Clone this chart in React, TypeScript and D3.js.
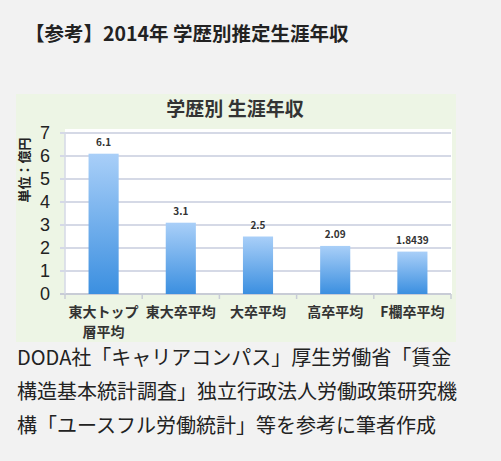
import React, { useEffect, useRef } from 'react';
import * as d3 from 'd3';

const categories = ['東大トップ\n層平均', '東大卒平均', '大卒平均', '高卒平均', 'F欄卒平均'];
const values = [6.1, 3.1, 2.5, 2.09, 1.8439];
const valueLabels = ['6.1', '3.1', '2.5', '2.09', '1.8439'];
const yTicks = [0, 1, 2, 3, 4, 5, 6, 7];
const noteLines = [
    'DODA社「キャリアコンパス」厚生労働省「賃金',
    '構造基本統計調査」独立行政法人労働政策研究機',
    '構「ユースフル労働統計」等を参考に筆者作成',
];

const FONT = '"Noto Sans CJK JP", "Noto Sans", sans-serif';

const App: React.FC = () => {
    const svgRef = useRef<SVGSVGElement>(null);

    useEffect(() => {
        if (!svgRef.current) return;

        const width = 501;
        const height = 461;
        const plot = { left: 65, right: 451, top: 133, bottom: 294 };

        const svg = d3.select(svgRef.current);
        svg.selectAll('*').remove();

        svg.append('rect').attr('width', width).attr('height', height).attr('fill', '#f2f2f2');

        // page header
        svg.append('text')
            .attr('x', 25)
            .attr('y', 34)
            .attr('dy', '0.35em')
            .style('font-family', FONT)
            .style('font-size', '19.5px')
            .style('font-weight', 'bold')
            .style('fill', '#222')
            .text('【参考】2014年 学歴別推定生涯年収');

        // chart box
        svg.append('rect')
            .attr('x', 16).attr('y', 94)
            .attr('width', 440).attr('height', 248)
            .attr('fill', '#edf5e5');

        svg.append('rect')
            .attr('x', plot.left).attr('y', plot.top - 4)
            .attr('width', plot.right - plot.left + 1).attr('height', plot.bottom - plot.top + 4)
            .attr('fill', '#ffffff');

        svg.append('text')
            .attr('x', 235)
            .attr('y', 109)
            .attr('dy', '0.35em')
            .attr('text-anchor', 'middle')
            .style('font-family', FONT)
            .style('font-size', '19px')
            .style('font-weight', 'bold')
            .style('fill', '#333')
            .style('white-space', 'pre')
            .text('学歴別 生涯年収');

        const x = d3.scaleBand<string>()
            .domain(categories)
            .range([plot.left, plot.right])
            .paddingInner(0.61)
            .paddingOuter(0.305);

        const y = d3.scaleLinear()
            .domain([0, 7])
            .range([plot.bottom, plot.top]);

        // gridlines
        svg.append('g')
            .selectAll('line')
            .data(yTicks)
            .enter()
            .append('line')
            .attr('x1', plot.left - 5)
            .attr('x2', plot.right)
            .attr('y1', d => y(d))
            .attr('y2', d => y(d))
            .attr('stroke', d => d === 0 ? '#c8ccd6' : '#d5d9e6')
            .attr('stroke-width', 2);

        // x ticks at band edges
        const edges = categories.map(c => (x(c) as number) - x.step() * x.paddingInner() / 2);
        edges.push(plot.right);
        svg.append('g')
            .selectAll('line')
            .data(edges)
            .enter()
            .append('line')
            .attr('x1', d => d)
            .attr('x2', d => d)
            .attr('y1', plot.bottom)
            .attr('y2', plot.bottom + 5)
            .attr('stroke', '#c8ccd6')
            .attr('stroke-width', 1.5);

        svg.append('line')
            .attr('x1', plot.left).attr('x2', plot.left)
            .attr('y1', plot.top).attr('y2', plot.bottom)
            .attr('stroke', '#d5d9e6').attr('stroke-width', 1.5);

        // y tick labels
        svg.append('g')
            .selectAll('text')
            .data(yTicks)
            .enter()
            .append('text')
            .attr('x', 50)
            .attr('y', d => y(d))
            .attr('dy', '0.35em')
            .attr('text-anchor', 'end')
            .style('font-family', '"Liberation Sans", Arial, sans-serif')
            .style('font-size', '18px')
            .style('fill', '#222')
            .text(d => d);

        // y axis title
        svg.append('text')
            .attr('transform', 'translate(24, 170) rotate(-90)')
            .attr('dy', '0.35em')
            .attr('text-anchor', 'middle')
            .style('font-family', FONT)
            .style('font-size', '13px')
            .style('font-weight', 'bold')
            .style('fill', '#222')
            .text('単位：億円');

        // bar gradient
        const defs = svg.append('defs');
        const grad = defs.append('linearGradient')
            .attr('id', 'barGrad')
            .attr('x1', 0).attr('y1', 0).attr('x2', 0).attr('y2', 1);
        grad.append('stop').attr('offset', '0%').attr('stop-color', '#a9cff8');
        grad.append('stop').attr('offset', '100%').attr('stop-color', '#3b8fe0');

        svg.append('g')
            .selectAll('rect')
            .data(values)
            .enter()
            .append('rect')
            .attr('x', (_, i) => x(categories[i]) as number)
            .attr('y', d => y(d))
            .attr('width', x.bandwidth())
            .attr('height', d => y(0) - y(d))
            .attr('fill', 'url(#barGrad)');

        // data labels
        svg.append('g')
            .selectAll('text')
            .data(values)
            .enter()
            .append('text')
            .attr('x', (_, i) => (x(categories[i]) as number) + x.bandwidth() / 2)
            .attr('y', d => y(d) - 8)
            .attr('text-anchor', 'middle')
            .style('font-family', FONT)
            .style('font-size', '10px')
            .style('font-weight', 'bold')
            .style('fill', '#333')
            .text((_, i) => valueLabels[i]);

        // x labels
        const xl = svg.append('g')
            .selectAll('text')
            .data(categories)
            .enter()
            .append('text')
            .attr('x', d => (x(d) as number) + x.bandwidth() / 2)
            .attr('y', 312)
            .attr('text-anchor', 'middle')
            .style('font-family', FONT)
            .style('font-size', '14px')
            .style('font-weight', 'bold')
            .style('fill', '#333');
        xl.each(function (d) {
            const t = d3.select(this);
            d.split('\n').forEach((line, i) => {
                t.append('tspan')
                    .attr('x', t.attr('x'))
                    .attr('dy', i === 0 ? '0.35em' : '1.47em')
                    .text(line);
            });
        });

        // source note
        svg.append('g')
            .selectAll('text')
            .data(noteLines)
            .enter()
            .append('text')
            .attr('x', 17)
            .attr('y', (_, i) => 358 + i * 34)
            .attr('dy', '0.35em')
            .style('font-family', FONT)
            .style('font-size', '20px')
            .style('fill', '#222')
            .text(d => d);
    }, []);

    return (
        <div style={{ position: 'absolute', left: 0, top: 0 }}>
            <svg ref={svgRef} width={501} height={461} style={{ display: 'block' }}></svg>
        </div>
    );
};

export default App;
